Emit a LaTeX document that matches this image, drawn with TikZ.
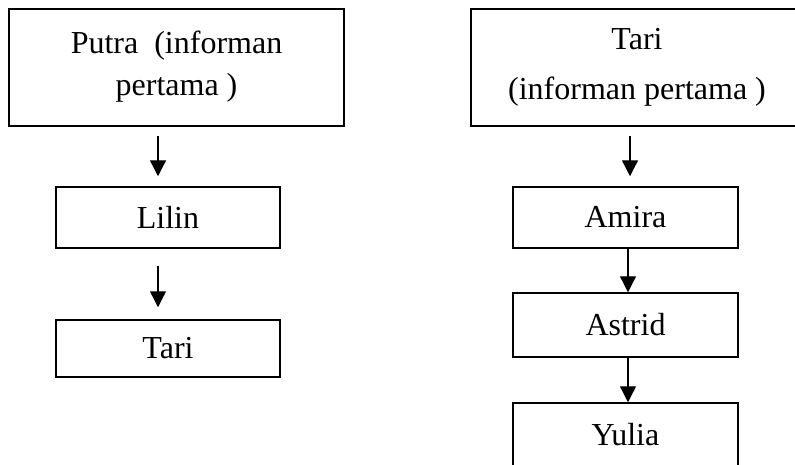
\documentclass[tikz,border=0pt]{standalone}
\usepackage{fontspec}
\setmainfont{Liberation Serif}
\usetikzlibrary{arrows.meta,positioning,calc}

\begin{document}
\begin{tikzpicture}[x=1pt, y=-1pt,
  pbox/.style={rectangle, draw=black, line width=1.5pt, fill=white,
               inner sep=0pt, align=center,
               font=\fontsize{32}{42}\selectfont},
  parr/.style={-{Triangle[length=16pt, width=16pt]}, line width=1.3pt}
]
\useasboundingbox (0,0) rectangle (795,464);

% Left chain
\node[pbox, minimum width=335pt, minimum height=117pt, text depth=8pt] (putra) at (176.5, 67.5) {Putra\ \ (informan\\pertama )};
\node[pbox, minimum width=224pt, minimum height=61pt] (lilin) at (168, 217.5) {Lilin};
\node[pbox, minimum width=224pt, minimum height=57pt] (tarib) at (168, 348.5) {Tari};

% Right chain
\node[pbox, minimum width=332pt, minimum height=117pt, font=\fontsize{32}{50}\selectfont] (tari) at (637, 67.5) {Tari\\(informan pertama )};
\node[pbox, minimum width=225pt, minimum height=61pt] (amira)  at (625.5, 217.5) {Amira};
\node[pbox, minimum width=225pt, minimum height=64pt] (astrid) at (625.5, 325) {Astrid};
\node[pbox, minimum width=225pt, minimum height=64pt] (yulia)  at (625.5, 435) {Yulia};

% Arrows
\draw[parr, shorten <=9pt, shorten >=10pt] ([xshift=-10pt]lilin.north |- putra.south) -- ([xshift=-10pt]lilin.north);
\draw[parr, shorten <=17pt, shorten >=12pt] ([xshift=-10pt]lilin.south) -- ([xshift=-10pt]tarib.north);
\draw[parr, shorten <=9pt, shorten >=10pt] ([xshift=4.5pt]amira.north |- tari.south) -- ([xshift=4.5pt]amira.north);
\draw[parr] ([xshift=2.5pt]amira.south) -- ([xshift=2.5pt]astrid.north);
\draw[parr] ([xshift=2.5pt]astrid.south) -- ([xshift=2.5pt]yulia.north);
\end{tikzpicture}
\end{document}
